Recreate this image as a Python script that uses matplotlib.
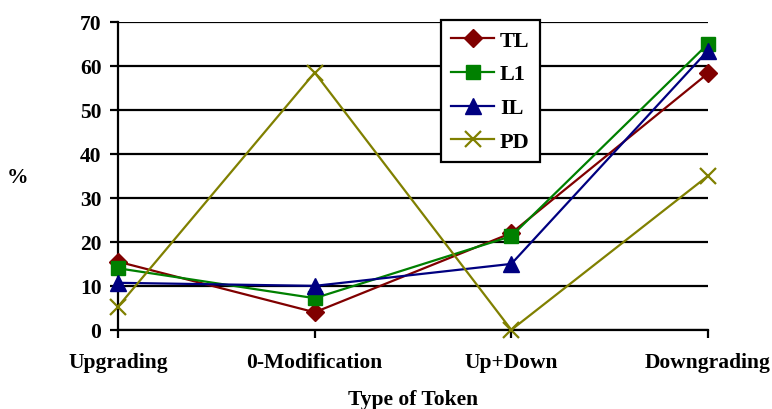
import matplotlib
matplotlib.use("Agg")
from matplotlib import pyplot as plt

categories = ['Upgrading', '0-Modification', 'Up+Down', 'Downgrading']
tl = [15.5, 4.0, 22.0, 58.3]
l1 = [14.0, 7.2, 21.3, 65.0]
il = [10.7, 10.0, 15.0, 63.5]
pd_vals = [5.3, 58.5, 0.0, 35.0]
y_ticks = [0, 10, 20, 30, 40, 50, 60, 70]

plt.rcParams['font.family'] = ['Liberation Serif', 'DejaVu Serif']
plt.rcParams['font.weight'] = 'bold'

fig = plt.figure(figsize=(7.72, 4.10), dpi=100)
ax = fig.add_axes([0.153, 0.193, 0.764, 0.751])

xs = range(len(categories))
ax.plot(xs, tl, color='#800000', marker='D', markersize=9, lw=1.6, label='TL', zorder=3, clip_on=False)
ax.plot(xs, l1, color='#008000', marker='s', markersize=10, lw=1.6, label='L1', zorder=3, clip_on=False)
ax.plot(xs, il, color='#000080', marker='^', markersize=11, lw=1.6, label='IL', zorder=3, clip_on=False)
ax.plot(xs, pd_vals, color='#808000', marker='x', markersize=12, mew=1.6, lw=1.6, label='PD', zorder=3,
        clip_on=False)

ax.set_xlim(0, 3)
ax.set_ylim(0, 70)
ax.set_yticks(y_ticks)
ax.set_xticks(list(xs))
ax.set_xticklabels(categories, fontsize=15.5, fontweight='bold')
ax.set_yticklabels([str(v) for v in y_ticks], fontsize=15.5, fontweight='bold')
ax.grid(axis='y', color='black', lw=1.6)
ax.set_axisbelow(True)
for s in ['top', 'right']:
    ax.spines[s].set_visible(False)
ax.spines['left'].set_linewidth(1.6)
ax.spines['bottom'].set_linewidth(1.6)
ax.tick_params(axis='both', direction='out', length=6, width=1.6, pad=6)
ax.tick_params(axis='x', pad=10)

ax.set_xlabel('Type of Token', fontsize=15.5, fontweight='bold', labelpad=12)
fig.text(0.023, 0.565, '%', fontsize=15.5, fontweight='bold', ha='center', va='center')

leg = ax.legend(loc='upper left', bbox_to_anchor=(441 / 772, 1 - 21 / 410),
                bbox_transform=fig.transFigure, fancybox=False, framealpha=1,
                edgecolor='black', fontsize=16, handlelength=1.95, borderaxespad=0,
                borderpad=0.45, labelspacing=0.6, handletextpad=0.25)
leg.get_frame().set_linewidth(1.6)
for t in leg.get_texts():
    t.set_fontweight('bold')

fig.savefig('out.png', dpi=100)
